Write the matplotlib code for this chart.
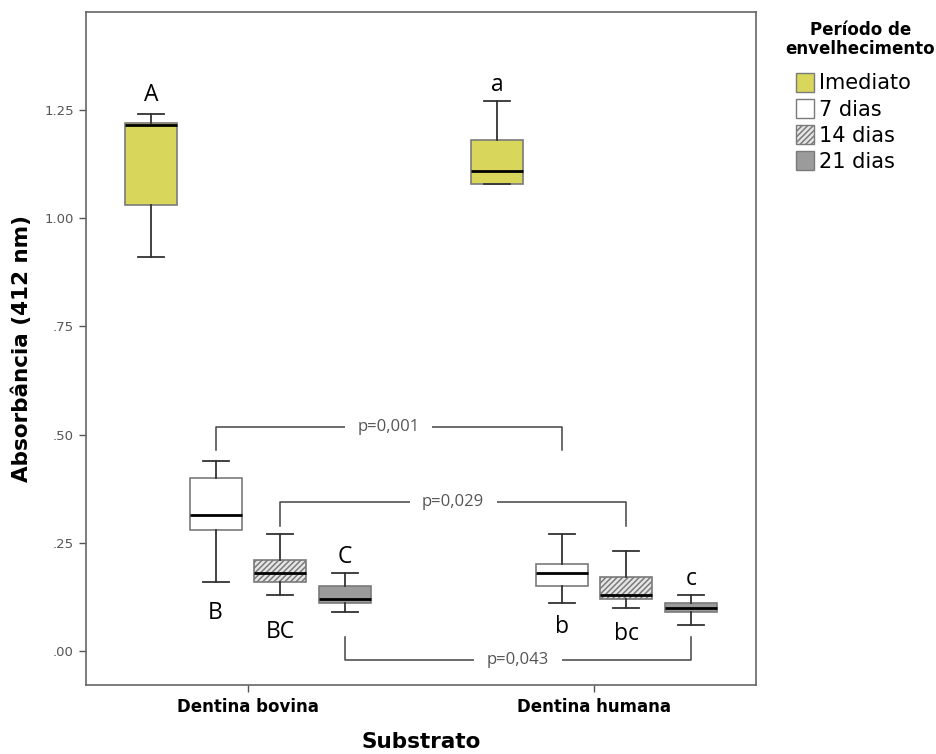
import matplotlib
matplotlib.use("Agg")
from matplotlib import pyplot as plt
from matplotlib.patches import Patch
import numpy as np

groups = ["Dentina bovina", "Dentina humana"]
periods = ["Imediato", "7 dias", "14 dias", "21 dias"]

# five-number summaries per period: whisker low, Q1, median, Q3, whisker high
bov_lo = [0.91, 0.16, 0.13, 0.09]
bov_q1 = [1.03, 0.28, 0.16, 0.11]
bov_med = [1.215, 0.315, 0.18, 0.12]
bov_q3 = [1.22, 0.40, 0.21, 0.15]
bov_hi = [1.24, 0.44, 0.27, 0.18]

hum_lo = [1.08, 0.11, 0.10, 0.06]
hum_q1 = [1.08, 0.15, 0.12, 0.09]
hum_med = [1.11, 0.18, 0.13, 0.10]
hum_q3 = [1.18, 0.20, 0.17, 0.11]
hum_hi = [1.27, 0.27, 0.23, 0.13]

bov_letters = ["A", "B", "BC", "C"]
hum_letters = ["a", "b", "bc", "c"]

# pairwise comparisons: (period index, p-value text)
comparisons = [(1, "p=0,001"), (2, "p=0,029"), (3, "p=0,043")]

fill_colors = ["#d9d65c", "white", "#e6e6e6", "#9b9b9b"]
hatches = [None, None, "//////", None]
offsets = np.array([-0.28, -0.093, 0.093, 0.28])
box_w = 0.15

plt.rcParams["hatch.linewidth"] = 1.1

fig = plt.figure(figsize=(9.37, 7.54), dpi=100)
ax = fig.add_axes([0.0915, 0.0915, 0.7155, 0.8922])

all_stats = [
    (bov_lo, bov_q1, bov_med, bov_q3, bov_hi),
    (hum_lo, hum_q1, hum_med, hum_q3, hum_hi),
]
for g, (lo, q1, med, q3, hi) in enumerate(all_stats):
    stats = [dict(whislo=lo[i], q1=q1[i], med=med[i], q3=q3[i], whishi=hi[i])
             for i in range(len(periods))]
    res = ax.bxp(stats, positions=g + offsets, widths=box_w, patch_artist=True,
                 showfliers=False, capwidths=box_w / 2,
                 boxprops=dict(edgecolor="#7a7a7a", linewidth=1.2),
                 medianprops=dict(color="black", linewidth=2),
                 whiskerprops=dict(color="#333333", linewidth=1.3),
                 capprops=dict(color="#333333", linewidth=1.3),
                 manage_ticks=False)
    for box, fc, h in zip(res["boxes"], fill_colors, hatches):
        box.set_facecolor(fc)
        if h:
            box.set_hatch(h)

# significance letters above or below the whiskers (offsets in points)
letter_kw = dict(ha="center", fontsize=16.5, family="Open Sans", textcoords="offset points")
bov_shift = [5, -14, -18, 3]
hum_shift = [3, -8, -10, 3]
for g, (letters, shift, lo, hi) in enumerate([
        (bov_letters, bov_shift, bov_lo, bov_hi),
        (hum_letters, hum_shift, hum_lo, hum_hi)]):
    for i, t in enumerate(letters):
        x = g + offsets[i]
        if shift[i] > 0:
            ax.annotate(t, (x, hi[i]), xytext=(0, shift[i]), va="bottom", **letter_kw)
        else:
            ax.annotate(t, (x, lo[i]), xytext=(0, shift[i]), va="top", **letter_kw)

# brackets between substrates
bracket_kw = dict(color="#444444", linewidth=1.1)
for i, ptxt in comparisons:
    x0 = 0 + offsets[i]
    x1 = 1 + offsets[i]
    if i == 3:
        yb = -0.021
        y0 = bov_lo[i] - 0.057
        y1 = hum_lo[i] - 0.027
        ax.plot([x0, x0, x1, x1], [y0, yb, yb, y1], **bracket_kw)
        ty = yb
    else:
        top = 0.518 if i == 1 else 0.344
        y0 = bov_hi[i] + (0.025 if i == 1 else 0.02)
        y1 = hum_hi[i] + (0.194 if i == 1 else 0.058)
        ax.plot([x0, x0, x1, x1], [y0, top, top, y1], **bracket_kw)
        ty = top
    ax.text((x0 + x1) / 2, ty, ptxt, ha="center", va="center", fontsize=12,
            family="Open Sans", color="#555555",
            bbox=dict(facecolor="white", edgecolor="none", pad=9))

ax.set_xlim(-0.468, 1.468)
ax.set_ylim(-0.0786, 1.476)
ax.set_xticks([0, 1])
ax.set_xticklabels(groups, fontsize=12, fontweight="bold")
yt = [0, 0.25, 0.5, 0.75, 1.0, 1.25]
ax.set_yticks(yt)
ax.set_yticklabels([".00", ".25", ".50", ".75", "1.00", "1.25"], fontsize=9.5, color="#555555")
ax.tick_params(axis="both", color="#555555", length=5, width=1)
ax.tick_params(axis="x", pad=4)
for s in ax.spines.values():
    s.set_color("#666666")
    s.set_linewidth(1.2)

ax.set_xlabel("Substrato", fontsize=15.5, fontweight="bold", labelpad=12)
ax.set_ylabel("Absorbância (412 nm)", fontsize=15.5, fontweight="bold", labelpad=9)

handles = [Patch(facecolor=fc, edgecolor="#7a7a7a", hatch=h, label=p)
           for fc, h, p in zip(fill_colors, hatches, periods)]
leg = fig.legend(handles=handles, loc="upper left", bbox_to_anchor=(0.838, 0.917),
                 frameon=False, fontsize=15, handlelength=0.9, handleheight=1.0,
                 handletextpad=0.2, labelspacing=0.27, borderpad=0)
leg_title = fig.text(0.918, 0.948, "Período de\nenvelhecimento", ha="center", va="center",
                     fontsize=12, fontweight="bold", linespacing=1.1)

fig.savefig("out.png", dpi=100)
